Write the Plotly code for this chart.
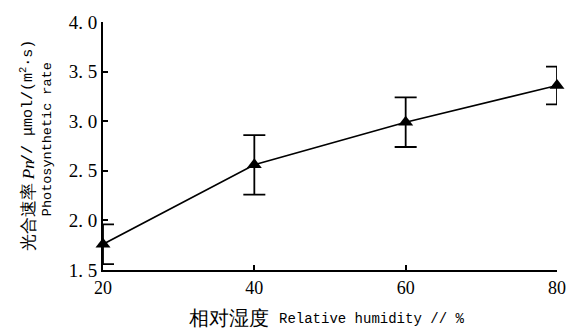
import plotly.graph_objects as go

humidity = [20, 40, 60, 80]
rate = [1.76, 2.56, 2.99, 3.36]
rate_err = [0.20, 0.30, 0.25, 0.19]

y_tickvals = [1.5, 2.0, 2.5, 3.0, 3.5, 4.0]
y_ticktext = ["1. 5", "2. 0", "2. 5", "3. 0", "3. 5", "4. 0"]
x_tickvals = [20, 40, 60, 80]
x_ticktext = ["20", "40", "60", "80"]

x_title_cjk = "相对湿度"
x_title_lat = "Relative humidity // %"
y_title_cjk = "光合速率"
y_title_pn = "<i>Pn</i>"
y_title_unit = "// μmol/(m<sup>2</sup>·s)"
y_title2 = "Photosynthetic rate"

fig = go.Figure()
fig.add_trace(go.Scatter(
    x=humidity, y=rate,
    mode="lines+markers",
    line=dict(color="black", width=1.6),
    marker=dict(symbol="triangle-up", size=13, color="black"),
    error_y=dict(type="data", array=rate_err, visible=True,
                 color="black", thickness=1.8, width=11),
    cliponaxis=False,
    showlegend=False,
))

L, R, T, B = 103, 21, 16, 62
W, H = 578, 332
pw = W - L - R
ph = H - T - B


def px(xp):
    return (xp - L) / pw


def py(yp):
    return (H - B - yp) / ph


axis_common = dict(showline=True, linecolor="black", linewidth=2,
                   ticks="inside", ticklen=5, tickwidth=2, tickcolor="black",
                   showgrid=False, zeroline=False)

fig.update_layout(
    width=W, height=H,
    margin=dict(l=L, r=R, t=T, b=B),
    plot_bgcolor="white",
    xaxis=dict(range=[20, 80], tickvals=x_tickvals, ticktext=x_ticktext,
               tickfont=dict(family="Liberation Serif", size=18, color="black"),
               **axis_common),
    yaxis=dict(range=[1.5, 4.0], tickvals=y_tickvals, ticktext=y_ticktext,
               tickfont=dict(family="Liberation Serif", size=19, color="black"),
               **axis_common),
    annotations=[
        dict(text=x_title_cjk, xref="paper", yref="paper",
             x=px(271), y=py(319), xanchor="right", yanchor="middle", showarrow=False,
             font=dict(family="Liberation Serif", size=20, color="black")),
        dict(text=x_title_lat, xref="paper", yref="paper",
             x=px(277), y=py(320), xanchor="left", yanchor="middle", showarrow=False,
             font=dict(family="Liberation Mono", size=14, color="black")),
        dict(text=y_title_cjk, xref="paper", yref="paper", textangle=-90,
             x=px(28), y=py(253), xanchor="center", yanchor="bottom", showarrow=False,
             font=dict(family="Liberation Serif", size=17, color="black")),
        dict(text=y_title_pn, xref="paper", yref="paper", textangle=-90,
             x=px(28), y=py(180), xanchor="center", yanchor="bottom", showarrow=False,
             font=dict(family="Liberation Serif", size=17, color="black")),
        dict(text=y_title_unit, xref="paper", yref="paper", textangle=-90,
             x=px(27), y=py(163), xanchor="center", yanchor="bottom", showarrow=False,
             font=dict(family="Liberation Mono", size=15, color="black")),
        dict(text=y_title2, xref="paper", yref="paper", textangle=-90,
             x=px(47), y=py(136), xanchor="center", yanchor="middle", showarrow=False,
             font=dict(family="Liberation Mono", size=13.5, color="black")),
    ],
)

fig.write_html("out.html", post_script="document.documentElement.lang='en';")
